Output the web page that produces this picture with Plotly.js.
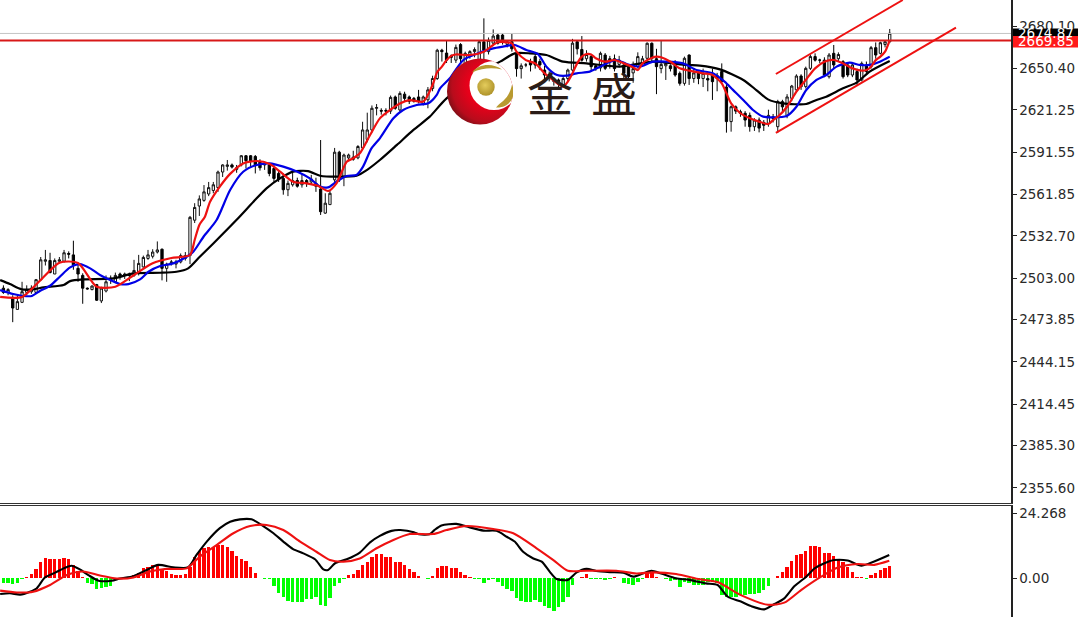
<!DOCTYPE html>
<html><head><meta charset="utf-8">
<script src="https://cdn.plot.ly/plotly-3.0.1.min.js"></script>
<style>html,body{margin:0;padding:0;background:#fff}#c{width:1078px;height:625px}</style>
</head><body><div id="c"></div>
<script>
const opens=[2495,2492,2488,2480,2485,2492,2492.5,2492,2501,2514,2514.5,2505,2514,2514,2519.5,2518.5,2509,2504,2495,2494,2497.5,2486,2493,2502,2499.5,2505,2504,2505,2504,2505.5,2510,2516,2517.5,2520.5,2522.5,2509,2513,2512,2513.5,2516,
2518,2543,2553,2557,2561.5,2564,2566,2577,2581,2582,2580,2582,2588.5,2588.5,2588,2584,2582,2582,2579.5,2576,2572.5,2564.5,2568,2571,2568,2571,2570,2569,2565,2548,
2554,2571.5,2591,2574,2587,2587.5,2587,2594,2600,2606.7,2622,2620.5,2620.5,2620,2630,2620.8,2632,2630,2629,2630,2625,2628,2636,2643,2663,2661,2659,2656,2667,2652.6,
2659,2662,2656,2669,2662,2668,2673.7,2673.7,2667,2669,2660.8,2650,2652.6,2655,2658.5,2655,2649,2646,2643,2642,2638.5,2643,2649,2669,2663.5,2657,2658.5,2652,2650.5,2659.6,
2657,2657,2653,2652.6,2651.4,2647,2651.4,2653.7,2657.3,2667.9,2657,2650,2652,2652,2652.6,2646.7,2639.6,2659.6,2643,2647,2643,2643,2645.5,2645,2648,2637,2612.6,2623,2619.6,2618.5,
2617,2609,2613.7,2612,2611.4,2616,2609,2626.7,2617,2629,2635,2644.8,2637.3,2650.2,2658.5,2656,2656,2644.3,2660.8,2657,2654.9,2652.6,2645.5,2647.9,2642,2652.6,2651.4,2664.8,2660.8,2667,2669];
const closes=[2492,2494,2481,2485.5,2492.5,2494,2495,2501,2515,2515,2506,2514.5,2515,2520,2519,2511.5,2505,2495,2494.5,2496.5,2486.5,2495,2499.5,2501,2504,2503,2505,2504,2507.5,2512.5,2516.7,2518.5,2520.5,2522,2509,2512,2513.5,2513.5,2518,2518,
2545,2552,2558,2563,2566,2568,2577,2582,2582,2580.5,2579,2588.5,2585,2584.5,2582,2580,2583,2576,2572.5,2572,2564.5,2569,2571,2567,2571,2569,2572,2567,2549,2555,
2562,2591,2571.5,2589,2589,2586,2595,2606.7,2606.7,2622,2622.5,2620,2620,2629.7,2622,2632.5,2629,2627,2627,2627,2630,2635,2643,2663,2662,2656,2658,2665,2657,2660.8,
2662,2663.5,2669,2663,2670,2673,2668,2669,2669,2664,2650,2652,2652.6,2652.6,2652.6,2652.6,2645.5,2644,2641,2639,2643,2649,2668,2664,2656,2660,2651.4,2650,2660.8,2650.2,
2655,2650,2656,2646.7,2644.3,2650,2658.5,2657,2667.9,2657.3,2651.4,2653,2653.7,2650,2645.5,2639.6,2657.3,2643,2647,2643,2646.7,2642,2640.8,2643,2641,2612.6,2623.1,2620,2618.5,2613.7,
2609,2613.7,2608,2610,2617,2614.9,2626.7,2623,2630,2637.7,2644.8,2637.3,2650.2,2658.5,2656,2656,2645.5,2659.6,2652.6,2660,2644.3,2645.5,2652.6,2642,2653.7,2648,2664.8,2659.6,2668.3,2669,2675];
const highs=[2497,2495,2490,2490,2499.5,2497,2497,2501.5,2517,2522,2520,2516,2517,2522,2521,2528.5,2512.5,2505.5,2495.5,2497,2498,2496,2504,2504,2506,2506,2506,2506,2515,2518.5,2518,2522,2522.5,2528,2523,2513,2515,2515,2519.5,2520.5,
2546,2555,2560.5,2567.8,2570,2570,2578,2582.5,2585.5,2583,2582,2589,2589,2589,2589,2586,2584.5,2582.7,2582,2578,2576,2571,2577,2573,2576,2572,2575,2573,2599.6,2562,
2564,2594,2592,2590,2590,2592,2596,2612.5,2618.9,2624,2625,2622,2622,2631,2631,2634,2633.7,2631,2630,2635,2631,2637,2645,2664,2664,2669.8,2660,2667,2668,2662,
2663,2665,2670,2685.5,2672,2677.7,2674.5,2675,2670,2674.5,2662,2653.7,2654,2657,2660.8,2657,2652,2648,2644,2643,2645,2650,2671,2670,2673,2663,2660,2653,2662,2661,
2659,2660,2659,2654,2653,2655,2661.5,2659,2668.5,2668.5,2664,2670.2,2655,2653,2656,2648,2658.5,2660,2650,2648,2650,2645.5,2650,2647,2653.7,2639.6,2624,2624,2621,2620,
2619,2615,2615.5,2613.7,2621,2618,2628,2628,2632,2638.5,2646,2646,2651.4,2660,2660.8,2657,2658,2661,2666.7,2661.5,2656,2654,2654,2650,2655,2655,2666,2668.5,2669,2670,2678];
const lows=[2491,2490,2471,2480,2484.5,2490,2491,2491,2500,2511,2505.5,2505,2512.5,2513,2516,2508,2499.5,2484,2494,2493.5,2486,2484.5,2492,2498,2498.5,2501,2501.5,2500,2503,2504,2509.5,2515,2516,2519.5,2500.5,2499.5,2511,2509,2512.5,2514.5,
2512,2541,2546,2556,2560,2562,2563,2573.5,2578,2579.5,2576.5,2581,2579.5,2580,2576,2578,2578.5,2574,2570,2570,2561,2560,2566.7,2566,2566,2566.5,2568,2563,2546.7,2547.5,
2554,2570,2570,2567,2585,2585,2586,2593,2598,2605,2617,2617.5,2617,2618,2621,2619.5,2626.7,2625,2626,2625.5,2624,2622,2634,2642,2655,2654,2654,2654,2653.7,2650,
2657,2658,2655,2652.6,2660,2667,2667,2667,2665,2662,2644.3,2643,2651,2648,2650,2649,2642,2641,2638,2637,2637.5,2641,2648,2660,2655,2655,2649,2648.5,2648,2649,
2650,2648,2651,2643,2642,2640,2650,2652,2656,2655,2632,2646.7,2642,2648,2644.3,2638,2638,2638.5,2640,2639,2637,2634,2627.9,2634,2639.6,2604.8,2605.5,2618,2616,2609,
2605.5,2606,2605,2606,2609,2612,2604.8,2619.6,2615,2627,2633,2635,2636,2649,2655,2654,2644,2643,2650.2,2655,2643,2644,2644,2638.5,2641,2645.5,2650,2657,2660,2665,2668];

const maFastX=[-0.7,4,8,12,16,20,24,28,32,36,40,41,42,43.2,44.3,46.4,48.6,51.4,54.3,57.1,59.3,62.1,65,67.5,69.6,71.4,73.6,75,76.4,78.6,80.7,82.9,85,87.1,90,92,93,94,95,96,97,100,103,105,106,108,109,110,112,114,116,118,120,121,122,123,124,125,126,127,129,131,133,135,136,137,138,140,141,143,145,147,150,152,154,155,156,158,160,162,164,165,166,168,170,172,174,176,178,180,182,184,185,186,187,188,189,190];
const maFast=[2488.8,2488.8,2500.8,2513,2512.8,2496,2496,2504.3,2512.6,2516.3,2518.4,2529,2539.6,2545.5,2556,2566.7,2575.7,2583.1,2584.8,2582.7,2577.3,2570.2,2569,2567.2,2563.6,2569,2584.3,2586.7,2590.2,2603.1,2614.9,2620.8,2625.4,2627.8,2626.7,2638.5,2647.6,2651.4,2656,2659,2660,2659.6,2662,2666.7,2668.6,2668.6,2667.9,2662,2656,2653.7,2646.7,2641.5,2637.3,2640.8,2646.7,2653.7,2658.5,2660.3,2660,2657.3,2654.9,2656.1,2653.7,2650.9,2649,2653.7,2656,2658.5,2658,2654.9,2650.2,2648.6,2646.7,2645.5,2639.6,2632.6,2625.5,2618.5,2614.9,2612.6,2610.9,2613.7,2616,2623.1,2633.7,2642,2650.2,2654.9,2656.1,2653.7,2650.2,2648.6,2649,2651.4,2656,2658.5,2662,2670.2];
const maMidX=[-0.7,2.1,4.3,6.1,7.9,10,12.1,14.3,16.4,18.6,20.7,22.9,25,26.8,29.3,31.1,33.6,36.4,39.3,40.7,42.9,45.7,48.6,51.4,54.3,57.1,60,62.9,65.7,67.9,69.6,71.4,73.6,75.7,77.1,78.9,80.7,83.6,85.7,88.6,91.1,92.9,93.6,95.7,98.6,102.1,105,107.1,109.6,112.1,114.6,116.4,118.7,120.7,122.9,125.7,127.9,131.4,133.6,136.4,139.3,142.1,145.7,148.6,152.1,154.6,156.4,158.6,160.7,162.9,165,167.9,170,172.1,174.3,176.4,178.6,181.4,183.6,185.7,187.9,190];
const maMid=[2493.7,2490.9,2489.5,2489.5,2493.2,2496.7,2503.1,2509.7,2512,2509,2504.3,2500.7,2497.9,2497.9,2501.2,2506.6,2510.6,2512.5,2517.2,2520.7,2531.3,2543.1,2564.3,2577.2,2582,2583.1,2580.8,2577.3,2572.5,2566.7,2566.2,2570.2,2574.2,2574.9,2580.8,2593.7,2600.8,2614.9,2620.8,2624.3,2625.5,2631.4,2636.1,2643.2,2656.1,2661.3,2664.3,2665.5,2666.7,2663.2,2660.3,2651.4,2645.5,2645,2646.7,2647.9,2651.4,2656.1,2653.3,2651.4,2654.9,2654.9,2653.7,2649,2646.7,2640.8,2635,2627.9,2620.8,2616.1,2615.6,2616.6,2623.1,2634.9,2642,2645.5,2651.4,2654.2,2652.6,2652.6,2654.9,2658.5];
const maSlowX=[-0.7,1.4,3.9,6.4,8.6,12.9,14.3,17.1,23.6,27.9,33.6,37.1,39.6,42.1,45,50,53.6,56.4,59.3,62.1,65.3,67.9,71.4,75.7,77.9,80.7,84.3,87.9,91.4,95,104.6,107.1,109.6,112.9,116.4,120,125,132.1,139.3,146.4,149.3,153.6,158.6,161.4,163.9,167.1,172.1,174.3,176.4,180,182.9,185.7,190];
const maSlow=[2500.7,2497.9,2494.2,2494.2,2495.6,2497.2,2500,2501.2,2501.9,2505.5,2505.9,2506.6,2509,2517.2,2526.6,2543.3,2556,2565.5,2572.5,2577.3,2577.7,2574.4,2573.7,2574.4,2578.4,2585.5,2596,2606.7,2616.1,2629,2651.4,2656.1,2660.8,2660.8,2659.6,2654.9,2653.7,2651.4,2654.9,2652.6,2652.1,2649.5,2642,2634.9,2628.3,2625.5,2625,2627.9,2630.2,2636.1,2640.1,2647.9,2655.4];

const channelX=[165.6,192.8];
const channelUpper=[2646.2,2698.45];
const channelLowX=[165.6,204.2];
const channelLower=[2604.6,2678.9];
const askPrice=2674.87, bidPrice=2669.85;
const xSpan=[-0.73,216];

const macdHist=[-2,-1.7,-2.4,-1.7,-0.5,0.2,1.5,3.4,6.1,7.3,7,7.2,7.2,7.3,7.2,4.9,2.7,0.4,-2,-2.4,-4.2,-3.9,-3.5,-2.9,-0.7,-0.1,0.2,0.2,1.1,2,3.6,4.2,4.9,4.5,3,2.7,1.5,1,1.1,1.5,
4,8,10.2,11.1,11.7,11.7,12.3,12.3,11.7,10.2,8.2,7.1,6.5,4.2,1.7,0.1,-0.2,-0.4,-3,-5.5,-7,-8.6,-9,-8.8,-8.8,-8,-7.7,-7,-10.1,-10.5,-7.6,-3,-2,-0.2,1.1,1.5,3,
4.9,5.9,8,9,9,8,8,6.1,6.1,4.9,3.2,2.4,0.7,-0.1,-0.2,0.6,3.6,4.6,4.5,3.7,3.7,2.4,1.1,0.2,-0.2,-0.2,-2,-0.9,-0.5,-1.4,-3,-4.2,-4.7,-7.6,-8.6,-9,-9,-8.2,-8.8,-10.5,-11.3,-12.2,-11,-8.8,-7,-2.6,-0.1,0.5,1.5,-0.2,-0.3,-0.2,-0.7,-0.4,0.2,0.1,-2,-2.4,-2.6,-1.5,-0.2,1.7,1.7,0.4,-0.1,-0.5,-1,-0.7,-3.5,-1.4,-1.7,-2.6,-2.7,-2.6,-1.6,-1.6,-2,
-6.4,-7,-7.2,-7,-6.4,-6.4,-6.1,-6.1,-5.7,-4.5,-3,-0.1,0.7,2.4,4,6.4,8.5,8.8,10.1,12,12,11.5,9.2,9.2,8.3,6.7,6.1,4.2,2.2,0.2,0.2,-0.3,1.1,2,3,3.6,4.5];
const macdX=[-0.7,1.4,3.6,5.7,7.1,8.9,11.1,12.9,14.6,16.4,18.2,20.4,23.2,25,27.9,30.7,33.2,36.4,39.6,41.4,43.6,46.4,48.6,50.7,53.2,55.7,57.9,60,62.1,64.3,66.8,68.6,69.6,71.1,73.6,76.4,78.6,80.7,83.2,85.1,88,89.1,91.3,92.4,93.9,97.1,99.3,102.9,105.7,107.9,109.6,111.4,113.6,115.4,117.1,118.6,121,122.9,125,127.1,130,132.9,135,137.1,138.9,141,144.2,147,150.6,153.1,155.3,158.1,160.3,163.1,165.3,167.4,169.6,172.1,173.9,176,178.1,181,183.9,186,189.9];
const macdLine=[-6,-5.7,-6.2,-5.1,-3.9,0.2,2,3.6,4.6,3.2,1.1,-1,-1,-0.2,0.7,3,4.9,4,4,8.6,13.6,18.6,21,21.9,21.9,19.4,16.7,13.6,10.8,9.2,7,3.2,3,5.5,7,9.5,13.3,15.7,17.6,17.9,17.1,16.3,16.3,17.9,19.6,20.2,19.2,17.7,17.6,15.4,13.6,9.8,7.3,6.1,2.4,-0.4,-0.7,2.1,3.4,2.6,2.2,2,0.5,1.7,2.7,1.7,-0.1,-0.7,-2,-2.6,-7,-8.8,-10.5,-11.7,-9.7,-7.6,-3,0.5,3.6,5.5,6.7,6.5,4.6,5.7,8.6];
const signalX=[-0.7,2.9,6.4,10,13.6,17.1,20.7,24.3,27.9,31.4,35,39.3,42.1,45.7,49.3,52.9,56.4,60,63.6,67.1,70,72.9,76.4,80,83.6,87.1,92.1,95,99.3,105,109.3,114.3,117.9,121,125,131.4,135.7,139.3,144.2,149.3,153.2,158.1,163.9,167.4,171,175.3,178.9,183.1,186.7,189.9];
const signalLine=[-4.7,-5.4,-5.1,-2.6,1.1,2.4,0.9,-0.2,0.2,2.4,3.4,3.6,8,12.3,16.7,19.4,19.8,17.9,13.6,9.8,6.7,6.1,7.3,11.1,14.2,16.4,16.4,17.9,19.4,18.3,16.7,11.1,6.7,2.7,2.7,2.7,1.7,2.1,1.5,-0.5,-1.6,-6.4,-10,-9.2,-4.5,0.5,3.9,5.2,4.9,6.4];

const priceTickVals=[2680.10,2650.40,2621.25,2591.55,2561.85,2532.70,2503.00,2473.85,2444.15,2414.45,2385.30,2355.60];
const priceTickText=["2680.10","2650.40","2621.25","2591.55","2561.85","2532.70","2503.00","2473.85","2444.15","2414.45","2385.30","2355.60"];
const macdTickVals=[24.268,0];
const macdTickText=["24.268","0.00"];
const barIdx=opens.map((_,i)=>i);

// The readings above were taken with a slightly coarse scale; this recalibrates them to the printed tick labels.
const toPrice=a=>a.map(p=>2680.1-(2680.1-p)*0.7024/0.706);

const lineT=(x,y,color,w,ya,shape)=>({type:'scatter',mode:'lines',x:x,y:y,xaxis:ya==='y2'?'x2':'x',yaxis:ya,line:{color:color,width:w,shape:shape||'linear',smoothing:0.7},hoverinfo:'skip',showlegend:false});
const traces=[
 {type:'candlestick',x:barIdx,open:toPrice(opens),high:toPrice(highs),low:toPrice(lows),close:toPrice(closes),xaxis:'x',yaxis:'y',width:0.72,
  increasing:{line:{color:'#111',width:1},fillcolor:'#fff'},decreasing:{line:{color:'#000',width:1},fillcolor:'#000'},
  whiskerwidth:0,hoverinfo:'skip',showlegend:false},
 lineT(xSpan,[askPrice,askPrice],'#c4c4c4',1,'y'),
 lineT(maSlowX,toPrice(maSlow),'#000',2.2,'y','spline'),
 lineT(maMidX,toPrice(maMid),'#0000e6',2.2,'y','spline'),
 lineT(maFastX,toPrice(maFast),'#ee1111',2.2,'y','spline'),
 lineT(xSpan,[bidPrice,bidPrice],'#d81818',2,'y'),
 lineT(channelX,toPrice(channelUpper),'#ee1111',2,'y'),
 lineT(channelLowX,toPrice(channelLower),'#ee1111',2,'y'),
 {type:'bar',x:barIdx,y:macdHist,xaxis:'x2',yaxis:'y2',width:0.74,marker:{color:macdHist.map(v=>v>=0?'#ff0000':'#00ff00'),line:{width:0}},hoverinfo:'skip',showlegend:false},
 lineT(macdX,macdLine,'#000',2.1,'y2','spline'),
 lineT(signalX,signalLine,'#ee1111',2.1,'y2','spline')
];

const logoSvg='<svg xmlns="http://www.w3.org/2000/svg" width="264" height="272" viewBox="0 0 66 68">'+
'<defs><radialGradient id="g" cx="0.62" cy="0.42" r="0.68"><stop offset="0.45" stop-color="#e8001a"/><stop offset="0.8" stop-color="#b80c1c"/><stop offset="1" stop-color="#6e0f14"/></radialGradient>'+
'<radialGradient id="b" cx="0.45" cy="0.4" r="0.65"><stop offset="0" stop-color="#e4cc5c"/><stop offset="1" stop-color="#ab8f26"/></radialGradient>'+
'<clipPath id="k"><circle cx="33" cy="34" r="33"/></clipPath></defs>'+
'<circle cx="33" cy="34" r="33" fill="url(#g)"/>'+
'<g clip-path="url(#k)"><circle cx="47" cy="28" r="24.5" fill="#fff"/></g>'+
'<circle cx="39" cy="29.5" r="8.7" fill="url(#b)"/>'+
'<path d="M25 15 C31 6 46 5 55 12 C46 10 36 10 25 15 Z" fill="#b89a30"/>'+
'<path d="M49 50 C54 44 62 42 65 27 C70 38 63 51 49 50 Z" fill="#b89a30"/>'+
'</svg>';

const H=617, W=1011;
const tickFont={family:'DejaVu Sans',size:13.5,color:'#2a2a2a'};
const layout={
 width:1078,height:625,paper_bgcolor:'#fff',plot_bgcolor:'#fff',showlegend:false,bargap:0,
 margin:{l:0,r:67,t:0,b:8,pad:0},
 xaxis:{type:'linear',range:xSpan,domain:[0,1],anchor:'y',side:'bottom',showline:true,linecolor:'#333',linewidth:1,ticks:'',showticklabels:false,showgrid:false,zeroline:false,rangeslider:{visible:false},fixedrange:true},
 xaxis2:{type:'linear',range:xSpan,domain:[0,1],anchor:'y2',side:'top',showline:true,linecolor:'#333',linewidth:1,ticks:'',showticklabels:false,showgrid:false,zeroline:false,fixedrange:true},
 yaxis:{domain:[(H-503)/H,1],range:[2345.05,2698.36],anchor:'x',side:'right',showline:true,linecolor:'#222',linewidth:1.5,ticks:'outside',ticklen:4,tickcolor:'#222',tickmode:'array',tickvals:priceTickVals,ticktext:priceTickText,showgrid:false,zeroline:false,fixedrange:true,tickfont:tickFont},
 yaxis2:{domain:[0,(H-506)/H],range:[-14.56,26.88],anchor:'x2',side:'right',showline:true,linecolor:'#222',linewidth:1.5,ticks:'outside',ticklen:4,tickcolor:'#222',tickmode:'array',tickvals:macdTickVals,ticktext:macdTickText,showgrid:false,zeroline:false,fixedrange:true,tickfont:tickFont},
 shapes:[
  {type:'rect',layer:'above',xref:'paper',yref:'y',x0:1013/W,x1:1078/W,ysizemode:'pixel',yanchor:askPrice,y0:-5,y1:5,fillcolor:'#000',line:{width:0}},
  {type:'rect',layer:'above',xref:'paper',yref:'y',x0:1013/W,x1:1078/W,ysizemode:'pixel',yanchor:bidPrice,y0:-7,y1:4.5,fillcolor:'#ff1a1a',line:{width:0}}
 ],
 images:[{source:'data:image/svg+xml;charset=utf-8,'+encodeURIComponent(logoSvg),xref:'paper',yref:'paper',x:447/W,y:(H-57.5)/H,sizex:66/W,sizey:68/H,sizing:'stretch',xanchor:'left',yanchor:'top',layer:'above'}],
 annotations:[
  {xref:'paper',yref:'y',x:1016/W,y:askPrice,xanchor:'left',yanchor:'middle',text:'2674.87',showarrow:false,font:{family:'DejaVu Sans',size:13.5,color:'#fff'}},
  {xref:'paper',yref:'y',x:1016/W,y:bidPrice,xanchor:'left',yanchor:'middle',text:'2669.85',showarrow:false,font:{family:'DejaVu Sans',size:13.5,color:'#fff'}},
  {xref:'paper',yref:'paper',x:550/W,y:(H-91)/H,xanchor:'center',yanchor:'middle',text:'金',showarrow:false,font:{family:'Noto Sans CJK SC',size:46,color:'#2a1c17'}},
  {xref:'paper',yref:'paper',x:613.5/W,y:(H-91)/H,xanchor:'center',yanchor:'middle',text:'盛',showarrow:false,font:{family:'Noto Sans CJK SC',size:46,color:'#2a1c17'}}
 ]
};
Plotly.newPlot('c',traces,layout,{staticPlot:true,displayModeBar:false});
</script></body></html>
